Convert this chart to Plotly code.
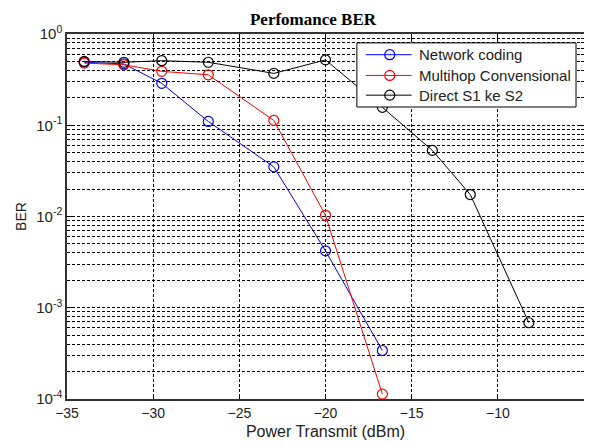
import plotly.graph_objects as go

power_dbm = [-34, -31.7, -29.5, -26.8, -23.0, -20.0, -16.7, -13.8, -11.6, -8.2]

network_coding_x = [-34, -31.7, -29.5, -26.8, -23.0, -20.0, -16.7]
network_coding_ber = [0.49, 0.47, 0.288, 0.11, 0.035, 0.0042, 3.4e-4]

multihop_x = [-34, -31.7, -29.5, -26.8, -23.0, -20.0, -16.7]
multihop_ber = [0.48, 0.46, 0.39, 0.357, 0.113, 0.0103, 1.13e-4]

direct_x = power_dbm
direct_ber = [0.5, 0.49, 0.51, 0.49, 0.37, 0.52, 0.157, 0.053, 0.0174, 6.85e-4]

x_ticks = [-35, -30, -25, -20, -15, -10, -5]
y_ticks = [1e-4, 1e-3, 1e-2, 1e-1, 1]
y_ticktext = ["10<sup>-4</sup>", "10<sup>-3</sup>", "10<sup>-2</sup>", "10<sup>-1</sup>", "10<sup>0</sup>"]

series_names = ["Network coding", "Multihop Convensional", "Direct S1 ke S2"]
series_colors = ["#0000ff", "#ff0000", "#000000"]
series_x = [network_coding_x, multihop_x, direct_x]
series_y = [network_coding_ber, multihop_ber, direct_ber]

# the page body has an 8px margin, so the figure is 8px smaller than the window
W, H = 584, 436
ML, MR, MT, MB = 59, 6, 26, 40
PW, PH = W - ML - MR, H - MT - MB


def px(fx):
    return (fx - ML) / PW


def py(fy):
    return 1 - (fy - MT) / PH


fig = go.Figure()
for name, xs, ys, col in zip(series_names, series_x, series_y, series_colors):
    fig.add_trace(go.Scatter(
        x=xs, y=ys, name=name, mode="lines+markers",
        line=dict(color=col, width=1),
        marker=dict(symbol="circle-open", size=10, color=col, line=dict(width=1.2, color=col)),
    ))

# legend box (MATLAB style), drawn with shapes + text annotations
shapes = [dict(type="rect", xref="paper", yref="paper", layer="above",
               x0=px(350), x1=px(570), y0=py(100), y1=py(35),
               fillcolor="white", line=dict(color="#000", width=1))]
annotations = []
row_y = [47, 68, 88]
for name, col, ry in zip(series_names, series_colors, row_y):
    shapes.append(dict(type="line", xref="paper", yref="paper", layer="above",
                       x0=px(359), x1=px(405), y0=py(ry), y1=py(ry),
                       line=dict(color=col, width=1)))
    shapes.append(dict(type="circle", xref="paper", yref="paper", layer="above",
                       xsizemode="pixel", ysizemode="pixel",
                       xanchor=px(383), yanchor=py(ry), x0=-5, x1=5, y0=-5, y1=5,
                       fillcolor="rgba(0,0,0,0)", line=dict(color=col, width=1.2)))
    annotations.append(dict(text=name, xref="paper", yref="paper", x=px(410), y=py(ry),
                            xanchor="left", yanchor="middle", showarrow=False,
                            font=dict(size=15, color="#222")))

grid_dash = "3px,2px"
fig.update_layout(
    width=W, height=H,
    margin=dict(l=ML, r=MR, t=MT, b=MB),
    paper_bgcolor="white", plot_bgcolor="white",
    font=dict(family="Liberation Sans, Arial, sans-serif", size=14, color="#222"),
    title=dict(text="<b>Perfomance BER</b>", x=305 / W, xref="container", xanchor="center",
               y=1 - 11 / H, yref="container", yanchor="middle",
               font=dict(family="Liberation Serif, Times New Roman, serif", size=17, color="#000")),
    showlegend=False,
    shapes=shapes,
    annotations=annotations,
)
fig.update_xaxes(
    range=[-35, -5], tickvals=x_ticks, ticks="inside", ticklen=5, tickcolor="#000",
    showline=True, linecolor="#333", linewidth=1.5, mirror="ticks",
    showgrid=True, gridcolor="#000", gridwidth=1, griddash=grid_dash,
    zeroline=False, tickfont=dict(size=14),
    title=dict(text="Power Transmit (dBm)", font=dict(size=16), standoff=6),
)
fig.update_yaxes(
    type="log", range=[-4, 0], tickvals=y_ticks, ticktext=y_ticktext,
    ticks="inside", ticklen=5, tickcolor="#000",
    showline=True, linecolor="#333", linewidth=1.5, mirror="ticks",
    showgrid=True, gridcolor="#000", gridwidth=1, griddash=grid_dash,
    minor=dict(dtick="D1", showgrid=True, gridcolor="#000", gridwidth=1, griddash=grid_dash,
               ticks="inside", ticklen=3, tickcolor="#000"),
    zeroline=False, tickfont=dict(size=15),
    title=dict(text="BER", font=dict(size=14), standoff=6),
)

fig.write_html("out.html")
